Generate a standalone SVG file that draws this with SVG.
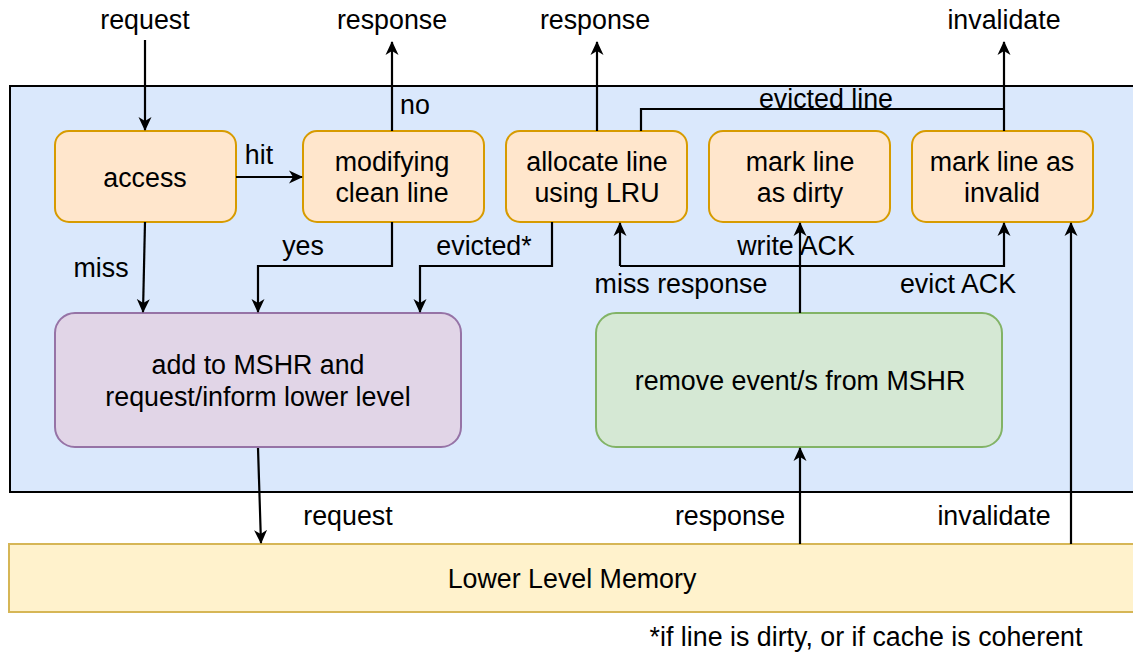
<svg xmlns="http://www.w3.org/2000/svg" width="1133" height="652" viewBox="0 0 1133 652">
<defs>
<marker id="ah" markerWidth="14" markerHeight="14" refX="13" refY="7" orient="auto" markerUnits="userSpaceOnUse" viewBox="0 0 14 14">
<path d="M0,0.5 L14,7 L0,13.5 L4,7 z" fill="#000"/>
</marker>
<style>
text{font-family:"Liberation Sans",Arial,sans-serif;font-size:26.8px;fill:#000;text-anchor:middle}
.orange{fill:#ffe6cc;stroke:#d79b00;stroke-width:2}
.purple{fill:#e1d5e7;stroke:#9673a6;stroke-width:2}
.green{fill:#d5e8d4;stroke:#82b366;stroke-width:2}
.mem{fill:#fff2cc;stroke:#d6b656;stroke-width:2}
.cont{fill:#dae8fc;stroke:#000;stroke-width:2}
.c{fill:none;stroke:#000;stroke-width:2.2}
.a{marker-end:url(#ah)}
</style>
</defs>
<g id="cache">
<rect class="cont" x="10" y="86" width="1140" height="406"/>
</g>
<g id="lower-memory">
<rect class="mem" x="9" y="544" width="1140" height="68"/>
<text x="572" y="588">Lower Level Memory</text>
</g>
<g id="access">
<rect class="orange" x="55" y="131" width="181" height="91" rx="14"/>
<text x="145" y="187">access</text>
</g>
<g id="modifying">
<rect class="orange" x="303" y="131" width="181" height="91" rx="14"/>
<text x="392" y="171">modifying</text>
<text x="392" y="202">clean line</text>
</g>
<g id="allocate">
<rect class="orange" x="506" y="131" width="181" height="91" rx="14"/>
<text x="597" y="171">allocate line</text>
<text x="597" y="202">using LRU</text>
</g>
<g id="dirty">
<rect class="orange" x="709" y="131" width="181" height="91" rx="14"/>
<text x="800" y="171">mark line</text>
<text x="800" y="202">as dirty</text>
</g>
<g id="invalid">
<rect class="orange" x="912" y="131" width="181" height="91" rx="14"/>
<text x="1002" y="171">mark line as</text>
<text x="1002" y="202">invalid</text>
</g>
<g id="mshr">
<rect class="purple" x="55" y="313" width="406" height="134" rx="20"/>
<text x="258" y="374">add to MSHR and</text>
<text x="258" y="406">request/inform lower level</text>
</g>
<g id="remove">
<rect class="green" x="596" y="313" width="406" height="134" rx="20"/>
<text x="800" y="390">remove event/s from MSHR</text>
</g>
<g id="connectors">
<path class="c a" d="M145,40 L145,130"/>
<path class="c a" d="M392,131 L392,42"/>
<path class="c a" d="M597,131 L597,42"/>
<path class="c a" d="M1004,131 L1004,42"/>
<path class="c" d="M641,131 L641,109 L1004,109"/>
<path class="c a" d="M236,177 L302,177"/>
<path class="c a" d="M145,222 L143,312"/>
<path class="c a" d="M392,222 L392,266 L258,266 L258,312"/>
<path class="c a" d="M552,222 L552,266 L420,266 L420,312"/>
<path class="c a" d="M800,313 L800,223"/>
<path class="c a" d="M620,266 L620,223"/>
<path class="c a" d="M620,266 L1004,266 L1004,223"/>
<path class="c a" d="M258,448 L261,543"/>
<path class="c a" d="M800,544 L800,448"/>
<path class="c a" d="M1071,544 L1071,223"/>
</g>
<g id="labels">
<text x="145" y="29">request</text>
<text x="392" y="29">response</text>
<text x="595" y="29">response</text>
<text x="1004" y="29">invalidate</text>
<text x="415" y="114">no</text>
<text x="826" y="108">evicted line</text>
<text x="259" y="164">hit</text>
<text x="303" y="255">yes</text>
<text x="484" y="255">evicted*</text>
<text x="101" y="277">miss</text>
<text x="796" y="255">write ACK</text>
<text x="681" y="293">miss response</text>
<text x="958" y="293">evict ACK</text>
<text x="348" y="525">request</text>
<text x="730" y="525">response</text>
<text x="994" y="525">invalidate</text>
<text x="866" y="646">*if line is dirty, or if cache is coherent</text>
</g>
</svg>
